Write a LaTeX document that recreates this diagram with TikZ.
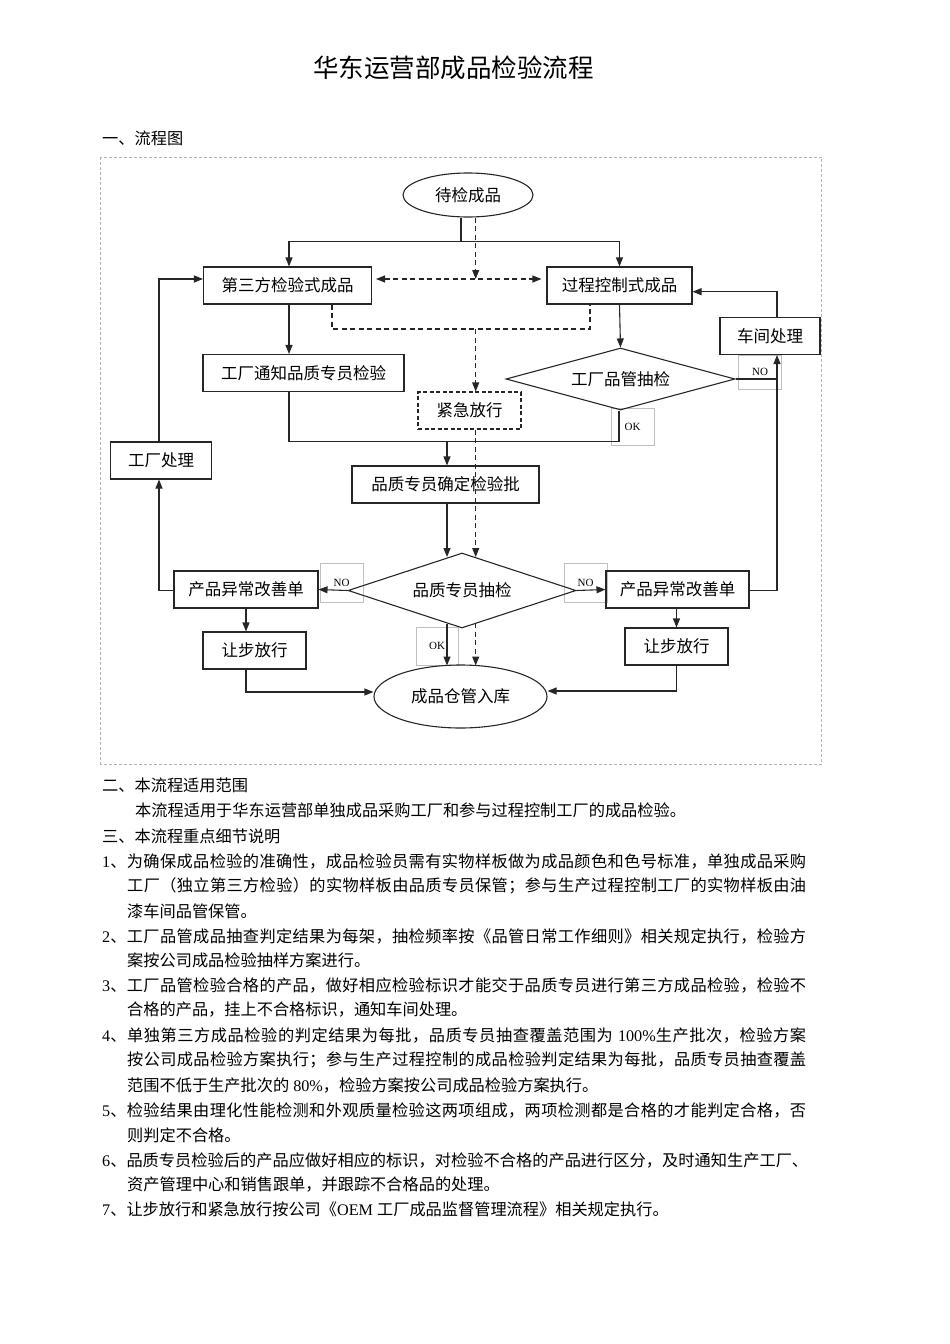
\documentclass[tikz,border=0pt]{standalone}
\usepackage{fontspec}
\setmainfont{Noto Sans CJK SC}
\newfontfamily\lat{Liberation Serif}
\usetikzlibrary{shapes.geometric,arrows.meta}
\newcount\cjkc
\cjkc="4E00
\loop \XeTeXcharclass\cjkc=1 \advance\cjkc by 1 \ifnum\cjkc<"A000 \repeat
\XeTeXcharclass"3001=3 \XeTeXcharclass"3002=3 \XeTeXcharclass"FF0C=3
\XeTeXcharclass"FF1B=3 \XeTeXcharclass"FF09=3 \XeTeXcharclass"300B=3
\XeTeXcharclass"FF08=2 \XeTeXcharclass"300A=2
\newcommand\ictok[2]{\XeTeXinterchartoks #1 #2 = {\hskip0pt plus 1pt minus .5pt\relax}}
\ictok{0}{1}\ictok{1}{0}\ictok{1}{1}\ictok{1}{2}\ictok{1}{3}\ictok{2}{1}\ictok{3}{1}
\ictok{3}{0}\ictok{0}{3}\ictok{3}{2}\ictok{2}{2}\ictok{3}{3}\ictok{0}{2}\ictok{2}{0}
\newcommand\jl[2]{\makebox[#1][s]{\XeTeXinterchartokenstate=1 #2}}
\newcommand\fcfont{\fontsize{16.5}{18}\selectfont}
\newcommand\bfont{\fontsize{16.2}{18}\selectfont}
\newcommand\lblfont{\lat\fontsize{11}{11}\selectfont}
\begin{document}
\begin{tikzpicture}[x=1pt,y=-1pt,
  box/.style={draw=black!85, line width=1.1pt, rectangle, inner sep=0, font=\fcfont, minimum height=37},
  ell/.style={draw=black!85, line width=1.1pt, ellipse, inner sep=0, font=\fcfont},
  dia/.style={draw=black!85, line width=1.1pt, diamond, aspect=3.6, inner sep=0, font=\fcfont},
  dbox/.style={box, dash pattern=on 4pt off 2.5pt},
  lbl/.style={draw=black!25, line width=1pt, rectangle, inner sep=0, minimum width=43, minimum height=38, font=\lblfont},
  ln/.style={draw=black!85, line width=1.1pt},
  arr/.style={ln, -{Triangle[length=9pt,width=7pt]}},
  dsh/.style={ln, dash pattern=on 5pt off 3.5pt},
  darr/.style={dsh, -{Triangle[length=9pt,width=7pt]}},
  dbarr/.style={dsh, {Triangle[length=9pt,width=7pt]}-{Triangle[length=9pt,width=7pt]}},
  txt/.style={anchor=west, inner sep=0, font=\bfont}]
\useasboundingbox (0,0) rectangle (950,1344);

% title
\node[inner sep=0, font=\fontsize{25.5}{28}\selectfont] (title) at (453.5,68) {华东运营部成品检验流程};
\node[txt] (h1) at (102,138) {一、流程图};

% frame
\draw[draw=black!30, dash pattern=on 3pt off 2pt, line width=0.8pt] (100.5,157) rectangle (821.5,764);

% label boxes
\node[lbl, minimum height=34] (no1) at (760,372) {\raisebox{-2pt}{NO}};
\node[lbl, minimum height=37] (ok1) at (632.5,426.5) {\raisebox{-4.5pt}{OK}};
\node[lbl, minimum height=39] (no2) at (341.5,582.5) {\raisebox{-4.5pt}{NO}};
\node[lbl, minimum height=39] (no3) at (585.5,582.5) {\raisebox{-4.5pt}{NO}};
\node[lbl, minimum width=42] (ok2) at (437,646) {\raisebox{-6pt}{OK}};

% nodes
\node[ell, minimum width=130, minimum height=44] (e1) at (468,195) {待检成品};
\node[box, minimum width=168] (b1) at (287.5,285.5) {第三方检验式成品};
\node[box, minimum width=145] (b2) at (619.5,285.5) {过程控制式成品};
\node[box, minimum width=201] (b3) at (303.5,373) {工厂通知品质专员检验};
\node[dia, minimum width=229, minimum height=62] (d1) at (620.5,379) {工厂品管抽检};
\node[dbox, minimum width=103] (k1) at (469.5,410.5) {紧急放行};
\node[box, minimum width=187] (b4) at (445.5,484.5) {品质专员确定检验批};
\node[box, minimum width=101] (f1) at (161,460.5) {工厂处理};
\node[box, minimum width=100] (c1) at (770,336) {车间处理};
\node[dia, minimum width=228, minimum height=75] (d2) at (462,590.5) {品质专员抽检};
\node[box, minimum width=144] (p1) at (246,589.5) {产品异常改善单};
\node[box, minimum width=143] (p2) at (677.5,589.5) {产品异常改善单};
\node[box, minimum width=103] (r1) at (254.5,650.5) {让步放行};
\node[box, minimum width=103] (r2) at (676.5,646.5) {让步放行};
\node[ell, minimum width=173, minimum height=63] (e2) at (460.5,696.5) {成品仓管入库};

% coordinates
\coordinate (j1) at (461,241.7);
\coordinate (j2) at (475.7,279);
\coordinate (m1) at (332,329);
\coordinate (m2) at (590,329);
\coordinate (j3) at (475.7,329);
\coordinate (q1) at (289,441.7);
\coordinate (q2) at (619,441.7);
\coordinate (q3) at (447,441.7);
\coordinate (t1) at (475.7,557);
\coordinate (t2) at (447,557);
\coordinate (u1) at (159,590.5);
\coordinate (u2) at (777,590.5);
\coordinate (u3) at (777,291.7);
\coordinate (v1) at (246,692);
\coordinate (v2) at (676.5,691);
\coordinate (t3) at (447,623.5);
\coordinate (t4) at (447,665.5);
\coordinate (t5) at (475.7,623.2);
\coordinate (t6) at (475.7,665.5);

% connectors
\draw[ln] (e1.south -| j1) -- (j1);
\draw[arr] (j1) -| (b1.north -| 289,0);
\draw[arr] (j1) -| (b2.north);
\draw[darr] (e1.south -| j2) -- (j2);
\draw[dbarr, shorten <=4pt, shorten >=5pt] (b1.east |- j2) -- (b2.west |- j2);
\draw[dsh] (b1.south -| m1) -- (m1) -- (m2) -- (b2.south -| m2);
\draw[darr] (j3) -- (k1.north -| j3);
\draw[darr] (k1.south -| j3) -- (t1);
\draw[arr] (b1.south -| q1) -- (b3.north -| q1);
\draw[arr] (b2.south) -- (d1.north);
\draw[ln] (b3.south -| q1) -- (q1) -- (q2) -- (d1.south -| q2);
\draw[arr] (q3) -- (b4.north -| q3);
\draw[arr] (b4.south -| t2) -- (t2);
\draw[arr] (d2.west) -- (p1.east);
\draw[arr] (d2.east) -- (p2.west);
\draw[arr] (p1.west |- u1) -- (u1) -- (f1.south -| u1);
\draw[arr] (f1.north -| u1) -- (u1 |- j2) -- (b1.west |- j2);
\draw[arr] (p2.east |- u2) -- (u2) -- (c1.south -| u2);
\draw[arr] (c1.north -| u3) -- (u3) -- (b2.east |- u3);
\draw[ln] (d1.east) -- (d1.east -| u2);
\draw[arr] (p1.south) -- (p1.south |- r1.north);
\draw[arr] (p2.south -| v2) -- (r2.north -| v2);
\draw[arr] (r1.south -| v1) -- (v1) -- (e2.west |- v1);
\draw[arr] (r2.south -| v2) -- (v2) -- (e2.east |- v2);
\draw[arr] (t3) -- (t4);
\draw[darr] (t5) -- (t6);

% text
\node[txt] (s2) at (102,785) {二、本流程适用范围};
\node[txt] (s2a) at (135,810) {本流程适用于华东运营部单独成品采购工厂和参与过程控制工厂的成品检验。};
\node[txt] (s3) at (102,836) {三、本流程重点细节说明};
\node[txt] (l1) at (102,861) {\jl{704pt}{{\lat 1}、为确保成品检验的准确性，成品检验员需有实物样板做为成品颜色和色号标准，单独成品采购}};
\node[txt] (l2) at (127,886) {\jl{679pt}{工厂（独立第三方检验）的实物样板由品质专员保管；参与生产过程控制工厂的实物样板由油}};
\node[txt] (l3) at (127,911) {漆车间品管保管。};
\node[txt] (l4) at (102,936) {\jl{704pt}{{\lat 2}、工厂品管成品抽查判定结果为每架，抽检频率按《品管日常工作细则》相关规定执行，检验方}};
\node[txt] (l5) at (127,960.5) {案按公司成品检验抽样方案进行。};
\node[txt] (l6) at (102,985.5) {\jl{704pt}{{\lat 3}、工厂品管检验合格的产品，做好相应检验标识才能交于品质专员进行第三方成品检验，检验不}};
\node[txt] (l7) at (127,1010) {合格的产品，挂上不合格标识，通知车间处理。};
\node[txt] (l8) at (102,1035) {\jl{704pt}{{\lat 4}、单独第三方成品检验的判定结果为每批，品质专员抽查覆盖范围为{\lat\ 100\%}生产批次，检验方案}};
\node[txt] (l9) at (127,1060) {\jl{679pt}{按公司成品检验方案执行；参与生产过程控制的成品检验判定结果为每批，品质专员抽查覆盖}};
\node[txt] (l10) at (127,1085) {范围不低于生产批次的{\lat\ 80\%}，检验方案按公司成品检验方案执行。};
\node[txt] (l11) at (102,1110) {\jl{704pt}{{\lat 5}、检验结果由理化性能检测和外观质量检验这两项组成，两项检测都是合格的才能判定合格，否}};
\node[txt] (l12) at (127,1135) {则判定不合格。};
\node[txt] (l13) at (102,1160) {\jl{706pt}{{\lat 6}、品质专员检验后的产品应做好相应的标识，对检验不合格的产品进行区分，及时通知生产工厂、}};
\node[txt] (l14) at (127,1184.5) {资产管理中心和销售跟单，并跟踪不合格品的处理。};
\node[txt] (l15) at (102,1209) {{\lat 7}、让步放行和紧急放行按公司《{\lat OEM }工厂成品监督管理流程》相关规定执行。};
\end{tikzpicture}
\end{document}
